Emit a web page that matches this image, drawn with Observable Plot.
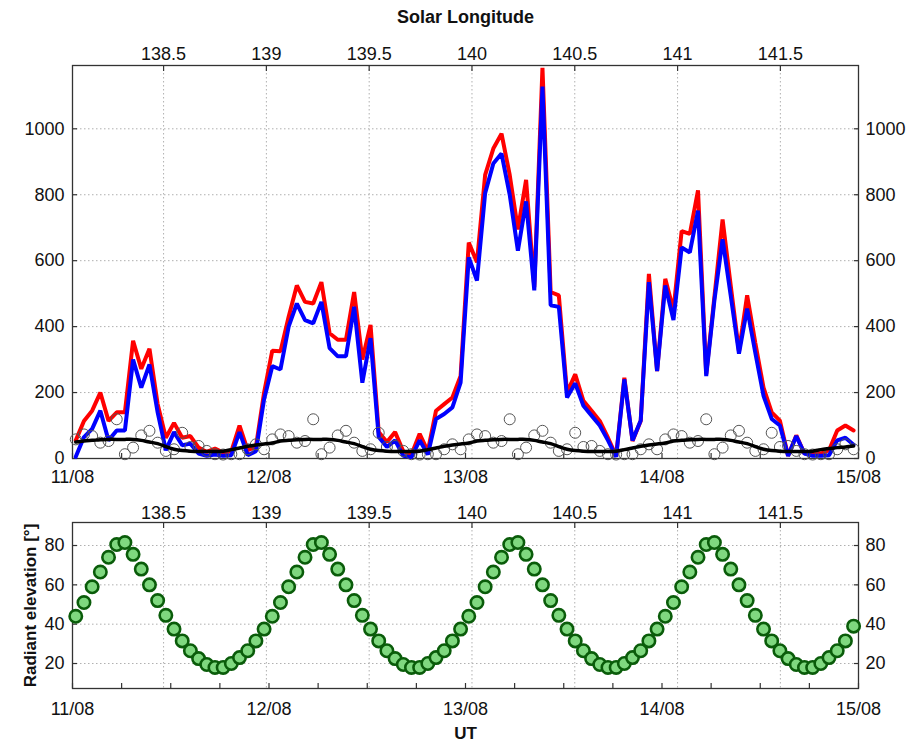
<!DOCTYPE html>
<html><head><meta charset="utf-8">
<script src="https://cdn.jsdelivr.net/npm/d3@7"></script>
<script src="https://cdn.jsdelivr.net/npm/@observablehq/plot@0.6"></script>
<style>
body{margin:0;background:#fff;}
#chart{width:910px;}
#chart svg{display:block;}
</style></head><body><div id="chart"></div>
<script>
// ---- axis labels / ticks ----
const dayLabels = ["11/08", "12/08", "13/08", "14/08", "15/08"];
const dayTicks = [0, 24, 48, 72, 96];            // hours since 11/08 00:00 UT
const sixHourTicks = [6, 12, 18, 30, 36, 42, 54, 60, 66, 78, 84, 90];
const slLabels = [138.5, 139, 139.5, 140, 140.5, 141, 141.5];
const slAtStart = 138.057;   // solar longitude at 11/08 00:00 UT
const slAtEnd = 141.88;      // solar longitude at 15/08 00:00 UT
const rateTicks = [0, 200, 400, 600, 800, 1000];
const elevTicks = [20, 40, 60, 80];
const hourOffset = 0.4;      // samples sit slightly after each full hour

// ---- series (hourly, 11/08 00h .. 14/08 23h) ----
const red = [55,114,145,200,114,140,140,357,272,333,165,63,108,63,68,33,20,30,18,22,100,25,35,200,
  327,325,430,525,475,470,535,380,360,360,505,300,405,80,50,80,22,12,75,22,145,165,185,250,
  655,595,860,940,985,860,695,845,520,1185,505,495,200,255,175,145,114,63,8,245,53,114,560,265,
  545,450,690,681,813,256,490,725,523,325,495,350,215,140,115,8,70,15,20,15,25,85,100,85];
const blue = [5,65,90,145,55,85,85,300,215,285,140,25,80,40,45,15,8,12,8,10,80,10,22,180,
  280,270,400,470,420,410,475,335,310,310,460,230,365,65,35,55,8,4,55,12,120,135,155,230,
  610,540,805,895,925,800,630,780,510,1128,465,460,185,228,160,130,100,55,5,240,55,115,535,265,
  525,420,640,625,752,250,480,665,493,318,455,320,190,120,100,8,68,15,8,8,10,55,63,42];
const background = [50,53,55,57,58,58,58,58,55,50,45,36,28,24,22,21,21,21,22,27,32,37,41,44,
  47,53,55,57,58,58,58,58,55,50,45,36,28,24,22,21,21,21,22,27,32,37,41,44,
  47,53,55,57,58,58,58,58,55,50,45,36,28,24,22,21,21,21,22,27,32,37,41,44,
  47,53,55,57,58,58,58,58,55,50,45,36,28,24,22,21,21,21,22,27,30,33,35,38];
const reference = [58,73,68,48,53,119,13,33,70,84,48,23,28,78,35,38,23,13,12,13,13,28,43,28,
  58,73,68,48,53,119,13,33,70,84,48,23,28,78,35,38,23,13,12,13,13,28,43,28,
  58,73,68,48,53,119,13,33,70,84,48,23,28,78,35,38,23,13,12,13,13,28,43,28,
  58,73,68,48,53,119,13,33,70,84,48,23,28,78,35,38,23,13,12,13,13,28,43,28];
const elevation = [44,51,59,66.5,74,80.5,81.5,75.5,68,60,52,44.5,37.5,31.5,26.5,22.5,19.5,18,18,20,23,26.5,31.5,37.5,
  44,51,59,66.5,74,80.5,81.5,75.5,68,60,52,44.5,37.5,31.5,26.5,22.5,19.5,18,18,20,23,26.5,31.5,37.5,
  44,51,59,66.5,74,80.5,81.5,75.5,68,60,52,44.5,37.5,31.5,26.5,22.5,19.5,18,18,20,23,26.5,31.5,37.5,
  44,51,59,66.5,74,80.5,81.5,75.5,68,60,52,44.5,37.5,31.5,26.5,22.5,19.5,18,18,20,23,26.5,31.5,39];

// ---- helpers ----
const slHours = slLabels.map(L => (L - slAtStart) / (slAtEnd - slAtStart) * 96);
const slFmt = h => { const i = slHours.indexOf(h); return i < 0 ? "" : String(slLabels[i]); };
const dayFmt = h => { const i = dayTicks.indexOf(h); return i < 0 ? "" : dayLabels[i]; };
const hx = (d, i) => i + hourOffset;
const FONT = "'Liberation Sans', Arial, Helvetica, sans-serif";
const gridStyle = {stroke: "#b0b0b0", strokeOpacity: 1, strokeDasharray: "1.5,2.5", strokeWidth: 1};
const tickStyle = {stroke: "#333", strokeWidth: 1.2};

function commonAxes(yTicks, opts) {
  return [
    Plot.gridX(slHours, gridStyle),
    Plot.gridY(yTicks, gridStyle),
    // inward tick marks
    Plot.axisX(slHours, {anchor: "top", tickSize: -5, tickFormat: () => "", label: null, ...tickStyle}),
    Plot.axisX(sixHourTicks.concat(dayTicks), {anchor: "bottom", tickSize: -5, tickFormat: () => "", label: null, ...tickStyle}),
    Plot.axisY(yTicks, {anchor: "left", tickSize: -5, tickFormat: () => "", label: null, ...tickStyle}),
    Plot.axisY(yTicks, {anchor: "right", tickSize: -5, tickFormat: () => "", label: null, ...tickStyle}),
    // labels
    Plot.axisX(slHours, {anchor: "top", tickSize: 0, tickPadding: opts.topPad, tickFormat: slFmt, label: null, fill: "#111"}),
    Plot.axisX(dayTicks, {anchor: "bottom", tickSize: 0, tickPadding: opts.bottomPad, tickFormat: dayFmt, label: null, fill: "#111"}),
    Plot.axisY(yTicks, {anchor: "left", tickSize: 0, tickPadding: 8, tickFormat: d => String(d), label: null, fill: "#111"}),
    Plot.axisY(yTicks, {anchor: "right", tickSize: 0, tickPadding: 7, tickFormat: d => String(d), label: null, fill: "#111"}),
    Plot.frame({stroke: "#333", strokeWidth: 1.3})
  ];
}

const upperChart = Plot.plot({
  width: 910, height: 490,
  marginLeft: 72, marginRight: 52, marginTop: 65, marginBottom: 32,
  style: {fontFamily: FONT, fontSize: "18px", background: "white", overflow: "visible"},
  x: {domain: [0, 96]},
  y: {domain: [0, 1192]},
  marks: [
    ...commonAxes(rateTicks, {topPad: 6, bottomPad: 12}),
    Plot.line(red, {x: hx, y: d => d, stroke: "#ff0000", strokeWidth: 4, strokeLinejoin: "miter"}),
    Plot.line(blue, {x: hx, y: d => d, stroke: "#0000ff", strokeWidth: 4, strokeLinejoin: "miter"}),
    Plot.dot(reference, {x: hx, y: d => d, r: 5.5, stroke: "#555", strokeWidth: 1, fill: "none"}),
    Plot.line(background, {x: hx, y: d => d, stroke: "#000", strokeWidth: 3.5, curve: "natural"}),
    Plot.text(["Solar Longitude"], {text: d => d, frameAnchor: "top", dy: -48, fontWeight: "bold", fontSize: 18, lineAnchor: "middle", fill: "#111"})
  ]
});

const lowerChart = Plot.plot({
  width: 910, height: 252,
  marginLeft: 72, marginRight: 52, marginTop: 32, marginBottom: 54,
  style: {fontFamily: FONT, fontSize: "18px", background: "white", overflow: "visible"},
  x: {domain: [0, 96]},
  y: {domain: [7.3, 91.7]},
  marks: [
    ...commonAxes(elevTicks, {topPad: 4, bottomPad: 14}),
    Plot.dot(elevation, {x: hx, y: d => d, r: 6.2, fill: "#7fd87f", stroke: "#0a5c0a", strokeWidth: 2.6}),
    Plot.text(["UT"], {text: d => d, frameAnchor: "bottom", dy: 45, fontWeight: "bold", fontSize: 17, lineAnchor: "middle", fill: "#111"}),
    Plot.text(["Radiant elevation [°]"], {text: d => d, frameAnchor: "left", dx: -42, rotate: -90, textAnchor: "middle", fontWeight: "bold", fontSize: 17, lineAnchor: "middle", fill: "#111"})
  ]
});

document.getElementById("chart").append(upperChart, lowerChart);
</script>
</body></html>
